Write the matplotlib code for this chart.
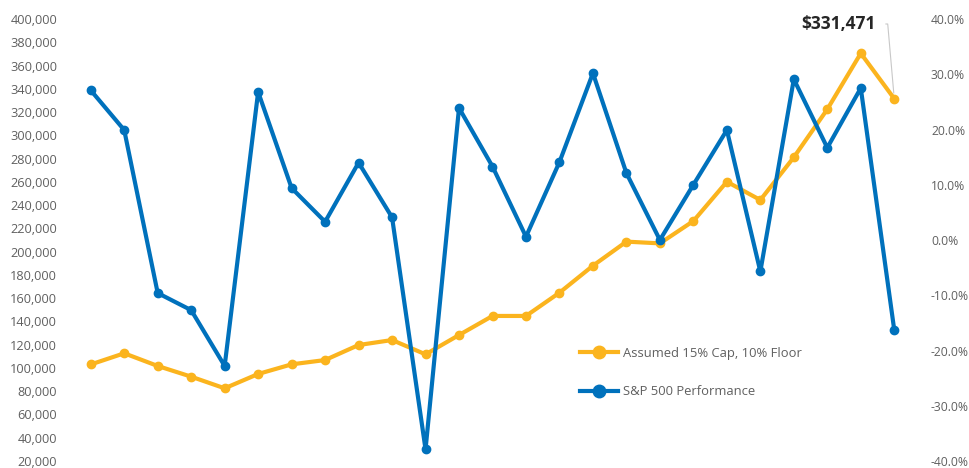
import matplotlib
matplotlib.use("Agg")
import matplotlib.pyplot as plt
from matplotlib.ticker import FuncFormatter

plt.rcParams['font.family'] = ['Open Sans', 'DejaVu Sans']

# one point per year, 25 years
periods = list(range(25))
cap_floor_values = [103000, 112600, 101700, 92500, 82500, 94800, 103100, 106800, 119700, 124000,
                    111700, 128300, 144700, 144700, 164700, 187900, 208600, 207100, 226300, 260100,
                    244400, 281100, 322400, 370500, 331471]
sp500_returns = [27.1, 19.9, -9.6, -12.7, -22.8, 26.8, 9.4, 3.3, 14.0, 4.1,
                 -37.9, 23.9, 13.3, 0.6, 14.1, 30.2, 12.1, 0.0, 10.0, 19.9,
                 -5.7, 29.1, 16.7, 27.5, -16.3]
left_ticks = list(range(20000, 400001, 20000))
right_ticks = list(range(-40, 41, 10))
final_label = "$331,471"

orange = "#fbb41e"
blue = "#0071bc"
grey = "#606060"

fig = plt.figure(figsize=(9.69, 4.68), dpi=100)
ax = fig.add_axes([74 / 969, 1 - 461 / 468, (911 - 74) / 969, (461 - 19) / 468])
ax2 = ax.twinx()

l1, = ax.plot(periods, cap_floor_values, color=orange, linewidth=3, marker='o', markersize=6,
              solid_joinstyle='round', label="Assumed 15% Cap, 10% Floor")
l2, = ax2.plot(periods, sp500_returns, color=blue, linewidth=3, marker='o', markersize=6,
               solid_joinstyle='round', label="S&P 500 Performance")

ax.set_xlim(-0.5, 24.5)
ax.set_ylim(20000, 400000)
ax2.set_ylim(-40, 40)
ax.set_yticks(left_ticks)
ax2.set_yticks(right_ticks)
ax.yaxis.set_major_formatter(FuncFormatter(lambda v, p: f"{v:,.0f}"))
ax2.yaxis.set_major_formatter(FuncFormatter(lambda v, p: f"{v:.1f}%"))
ax.set_xticks([])

for a in (ax, ax2):
    for s in a.spines.values():
        s.set_visible(False)
    a.tick_params(axis='y', length=0, labelcolor=grey)
ax.tick_params(axis='y', pad=12.2, labelsize=9.2)
ax2.tick_params(axis='y', pad=14.4, labelsize=8.7)

# callout for the last value
last_x = periods[-1]
last_y = cap_floor_values[-1]
ax.annotate(final_label, xy=(last_x, last_y), xycoords='data',
            xytext=(876, 468 - 24), textcoords='figure pixels',
            ha='right', va='center', fontsize=12.5, fontweight='bold', color="#262626",
            arrowprops=dict(arrowstyle='-', color="#c8c8c8", linewidth=0.8,
                            connectionstyle="angle,angleA=0,angleB=95,rad=0",
                            shrinkA=5, shrinkB=4))

leg = fig.legend(handles=[l1, l2], loc='upper left', bbox_to_anchor=(580 / 969, 1 - 347 / 468),
                 frameon=False, borderpad=0, borderaxespad=0, handlelength=2.9,
                 handletextpad=0.4, labelspacing=1.95, fontsize=9.4, markerscale=1.5)
for t in leg.get_texts():
    t.set_color(grey)

fig.savefig("out.png", dpi=100)
